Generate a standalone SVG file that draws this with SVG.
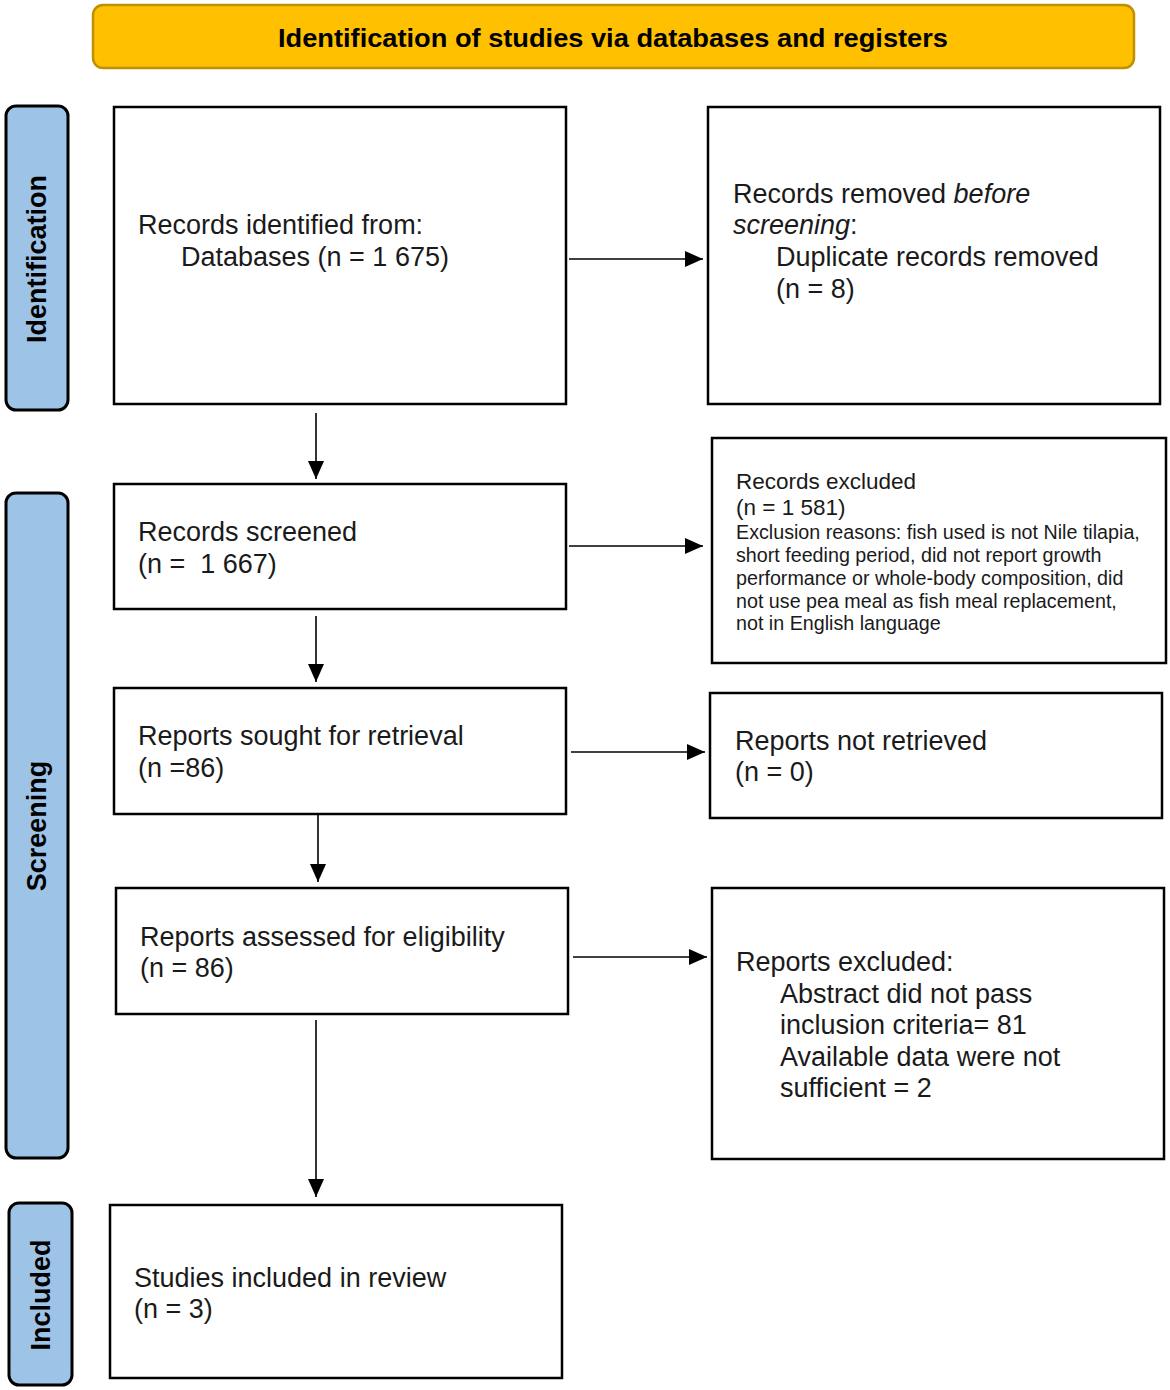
<svg xmlns="http://www.w3.org/2000/svg" width="1170" height="1390" viewBox="0 0 1170 1390">
<style>
.box{fill:#fff;stroke:#000;stroke-width:2.5}
.side{fill:#9DC3E6;stroke:#000;stroke-width:3}
.t{font-family:"Liberation Sans",Arial,sans-serif;font-size:27px;fill:#1a1a1a}
.s{font-family:"Liberation Sans",Arial,sans-serif;font-size:19.7px;fill:#1a1a1a}
.m{font-family:"Liberation Sans",Arial,sans-serif;font-size:22.5px;fill:#1a1a1a}
.lab{font-family:"Liberation Sans",Arial,sans-serif;font-size:27px;font-weight:bold;fill:#000;text-anchor:middle}
.con{stroke:#000;stroke-width:1.6;fill:none;marker-end:url(#ah)}
</style>
<defs>
<marker id="ah" markerWidth="18" markerHeight="16" refX="18" refY="8" orient="auto" markerUnits="userSpaceOnUse">
<path d="M0,0 L18,8 L0,16 Z" fill="#000"/>
</marker>
</defs>
<rect width="1170" height="1390" fill="#fff"/>
<g id="banner">
<rect x="93" y="5" width="1041" height="63" rx="10" fill="#FFC000" stroke="#BF9000" stroke-width="2.5"/>
<text x="613" y="47" font-family="Liberation Sans,Arial,sans-serif" font-size="25" font-weight="bold" text-anchor="middle" textLength="670" lengthAdjust="spacingAndGlyphs">Identification of studies via databases and registers</text>
</g>
<g id="side-identification">
<rect class="side" x="6" y="106" width="62" height="304" rx="10"/>
<text class="lab" transform="translate(46,259) rotate(-90)">Identification</text>
</g>
<g id="side-screening">
<rect class="side" x="6" y="493" width="62" height="665" rx="10"/>
<text class="lab" transform="translate(46,826) rotate(-90)">Screening</text>
</g>
<g id="side-included">
<rect class="side" x="9" y="1203" width="63" height="182" rx="10"/>
<text class="lab" transform="translate(50,1295) rotate(-90)">Included</text>
</g>
<g id="n1">
<rect class="box" x="114" y="107" width="452" height="297"/>
<text class="t" x="138" y="234">Records identified from:</text>
<text class="t" x="181" y="266">Databases (n = 1 675)</text>
</g>
<g id="n2">
<rect class="box" x="708" y="107" width="452" height="297"/>
<text class="t" x="733" y="203">Records removed <tspan font-style="italic">before</tspan></text>
<text class="t" x="733" y="234"><tspan font-style="italic">screening</tspan>:</text>
<text class="t" x="776" y="266">Duplicate records removed</text>
<text class="t" x="776" y="298">(n = 8)</text>
</g>
<g id="n3">
<rect class="box" x="114" y="484" width="452" height="125"/>
<text class="t" x="138" y="541">Records screened</text>
<text class="t" x="138" y="573">(n =&#160; 1 667)</text>
</g>
<g id="n4">
<rect class="box" x="712" y="438" width="454" height="225"/>
<text class="m" x="736" y="489">Records excluded</text>
<text class="m" x="736" y="515">(n = 1 581)</text>
<text class="s" x="736" y="539">Exclusion reasons: fish used is not Nile tilapia,</text>
<text class="s" x="736" y="562">short feeding period, did not report growth</text>
<text class="s" x="736" y="585">performance or whole-body composition, did</text>
<text class="s" x="736" y="608">not use pea meal as fish meal replacement,</text>
<text class="s" x="736" y="630">not in English language</text>
</g>
<g id="n5">
<rect class="box" x="114" y="688" width="452" height="126"/>
<text class="t" x="138" y="745">Reports sought for retrieval</text>
<text class="t" x="138" y="777">(n =86)</text>
</g>
<g id="n6">
<rect class="box" x="710" y="693" width="452" height="125"/>
<text class="t" x="735" y="750">Reports not retrieved</text>
<text class="t" x="735" y="781">(n = 0)</text>
</g>
<g id="n7">
<rect class="box" x="116" y="888" width="452" height="126"/>
<text class="t" x="140" y="946">Reports assessed for eligibility</text>
<text class="t" x="140" y="977">(n = 86)</text>
</g>
<g id="n8">
<rect class="box" x="712" y="888" width="452" height="271"/>
<text class="t" x="736" y="971">Reports excluded:</text>
<text class="t" x="780" y="1003">Abstract did not pass</text>
<text class="t" x="780" y="1034">inclusion criteria= 81</text>
<text class="t" x="780" y="1066">Available data were not</text>
<text class="t" x="780" y="1097">sufficient = 2</text>
</g>
<g id="n9">
<rect class="box" x="110" y="1205" width="452" height="173"/>
<text class="t" x="134" y="1287">Studies included in review</text>
<text class="t" x="134" y="1318">(n = 3)</text>
</g>
<g id="connectors">
<line class="con" x1="569" y1="259" x2="703" y2="259"/>
<line class="con" x1="316" y1="413" x2="316" y2="479"/>
<line class="con" x1="569" y1="546" x2="703" y2="546"/>
<line class="con" x1="316" y1="616" x2="316" y2="682"/>
<line class="con" x1="571" y1="752" x2="705" y2="752"/>
<line class="con" x1="318" y1="815" x2="318" y2="882"/>
<line class="con" x1="573" y1="957" x2="707" y2="957"/>
<line class="con" x1="316" y1="1020" x2="316" y2="1197"/>
</g>
</svg>
